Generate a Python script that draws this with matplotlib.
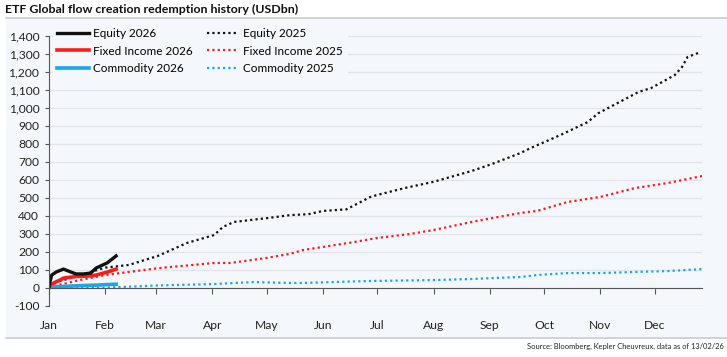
import numpy as np
import matplotlib.pyplot as plt
from matplotlib.patches import Rectangle
from matplotlib.lines import Line2D

plt.rcParams['font.family'] = ['Lato', 'DejaVu Sans']

# day of year -> cumulative flows (USDbn)
eq25_day = [0, 31, 44, 60, 76, 91, 96, 102, 120, 133, 143, 151, 164, 177, 181, 196, 212,
            233, 244, 260, 265, 282, 297, 303, 325, 332, 345, 349, 352, 359]
eq25_val = [20, 113, 128, 178, 250, 294, 340, 367, 388, 405, 410, 428, 437, 505, 517, 555, 590,
            650, 688, 750, 775, 850, 922, 972, 1089, 1111, 1183, 1228, 1283, 1310]

fi25_day = [0, 17, 31, 60, 91, 100, 120, 133, 140, 151, 168, 181, 199, 212, 233, 244,
            260, 269, 286, 304, 323, 341, 360]
fi25_val = [5, 44, 72, 110, 139, 139, 167, 190, 211, 228, 255, 278, 300, 322, 367, 388,
            417, 428, 478, 506, 555, 583, 622]

co25_day = [0, 31, 60, 91, 113, 133, 140, 177, 212, 233, 244, 260, 269, 286, 304, 323, 341, 360]
co25_val = [0, 2, 14, 22, 33, 28, 28, 39, 44, 50, 55, 61, 72, 83, 83, 89, 94, 105]

eq26_day = [0, 0.5, 1.5, 4, 8, 12, 15, 19, 23, 26, 32, 37]
eq26_val = [5, 33, 72, 89, 105, 89, 78, 78, 83, 111, 139, 178]

fi26_day = [0, 3, 6, 8, 15, 23, 26, 32, 37]
fi26_val = [12, 30, 44, 55, 64, 67, 72, 88, 105]

co26_day = [0, 5, 10, 15, 20, 26, 32, 37]
co26_val = [3, 8, 10, 12, 14, 16, 19, 21]

month_days = [0, 31, 59, 90, 120, 151, 181, 212, 243, 273, 304, 334]
month_labels = ['Jan', 'Feb', 'Mar', 'Apr', 'May', 'Jun', 'Jul', 'Aug', 'Sep', 'Oct', 'Nov', 'Dec']

bg = '#f4f8fc'
black = '#111111'
red = '#ff1a1a'
blue = '#1aa7e8'

fig = plt.figure(figsize=(7.27, 3.57), dpi=100)
fig.patch.set_facecolor('white')
# panel background and separators
fig.patches.append(Rectangle((6 / 727, 20 / 357), 721 / 727, 319 / 357, transform=fig.transFigure,
                             facecolor=bg, edgecolor='none', zorder=-10))
fig.add_artist(Line2D([6 / 727, 1], [1 - 18 / 357] * 2, color='#c8ccd0', lw=1.2))
fig.add_artist(Line2D([6 / 727, 1], [1 - 338 / 357] * 2, color='#c8ccd0', lw=1.2))

ax = fig.add_axes([49 / 727, 1 - 306 / 357, 653 / 727, 270 / 357])
ax.set_facecolor(bg)

dots = (0, (1, 1.4))
ax.plot(eq25_day, eq25_val, color=black, lw=1.6, ls=dots, label='Equity 2025')
ax.plot(fi25_day, fi25_val, color=red, lw=1.6, ls=dots, label='Fixed Income 2025')
ax.plot(co25_day, co25_val, color=blue, lw=1.6, ls=dots, label='Commodity 2025')
ax.plot(co26_day, co26_val, color=blue, lw=2.6, label='Commodity 2026')
ax.plot(fi26_day, fi26_val, color=red, lw=2.6, label='Fixed Income 2026')
ax.plot(eq26_day, eq26_val, color=black, lw=2.4, label='Equity 2026')

ax.set_xlim(0, 360)
ax.set_ylim(-100, 1400)
ax.set_yticks(np.arange(-100, 1401, 100))
ax.set_yticklabels([f'{v:,}' for v in range(-100, 1401, 100)])
ax.yaxis.grid(True, color='#e2e4e8', lw=1)
ax.set_axisbelow(True)

ax.set_xticks(month_days)
ax.set_xticklabels(month_labels)
ax.spines['bottom'].set_position(('data', 0))
ax.spines['bottom'].set_color('#555555')
ax.spines['left'].set_color('#555555')
ax.spines['top'].set_visible(False)
ax.spines['right'].set_visible(False)
ax.tick_params(axis='x', direction='out', length=4, color='#555555', pad=19,
               labelsize=8.7, labelcolor='#222222')
ax.tick_params(axis='y', direction='out', length=3, color='#555555', pad=4,
               labelsize=8.7, labelcolor='#222222')

h, l = ax.get_legend_handles_labels()
order = ['Equity 2026', 'Fixed Income 2026', 'Commodity 2026',
         'Equity 2025', 'Fixed Income 2025', 'Commodity 2025']
hd = dict(zip(l, h))
leg = ax.legend([hd[k] for k in order], order, ncol=2, loc='upper left',
                bbox_to_anchor=(0.0, 1.06), fontsize=8.5, frameon=True,
                handlelength=2.7, handletextpad=0.35, columnspacing=1.2,
                labelspacing=0.55, borderaxespad=0.3)
leg.get_frame().set_facecolor(bg)
leg.get_frame().set_edgecolor('none')
leg.get_frame().set_alpha(1)

fig.text(5 / 727, 1 - 9 / 357, 'ETF Global flow creation redemption history (USDbn)',
         fontsize=8.9, fontweight='bold', color='#111111', va='center', ha='left')
fig.text(724 / 727, 1 - 346 / 357, 'Source: Bloomberg, Kepler Cheuvreux, data as of 13/02/26',
         fontsize=5.4, color='#222222', va='center', ha='right',
         family=['Liberation Sans Narrow', 'Lato', 'DejaVu Sans'])

fig.savefig('out.png', dpi=100, facecolor=fig.get_facecolor())
